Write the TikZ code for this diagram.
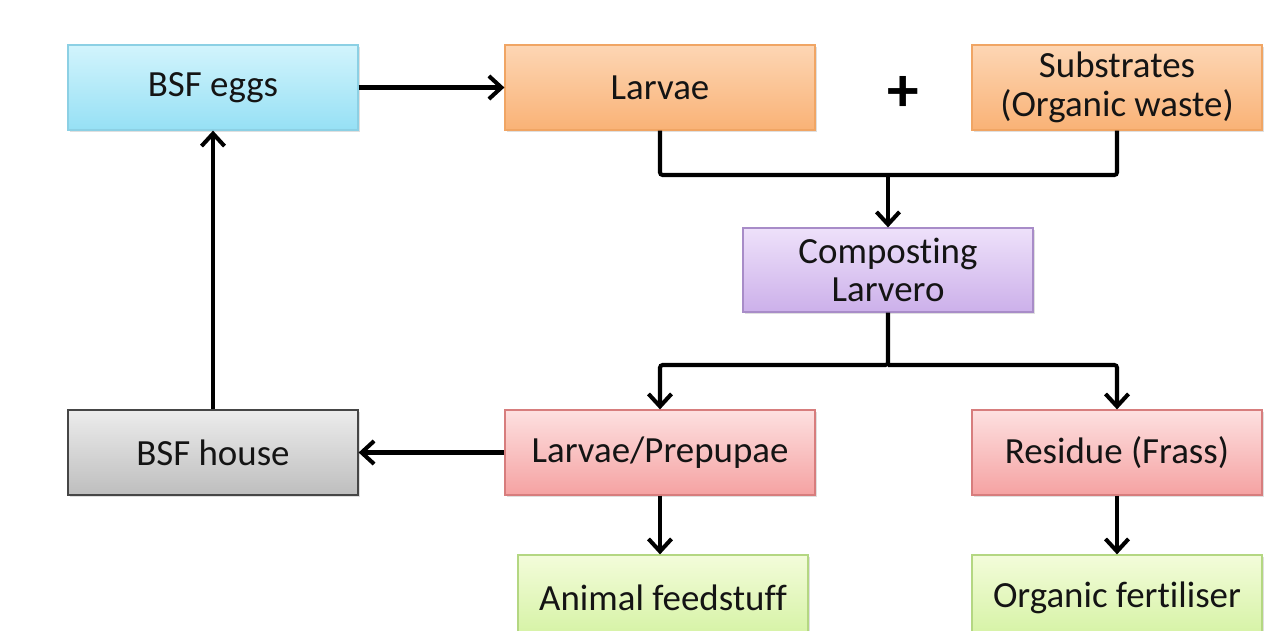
\documentclass[tikz,border=0pt]{standalone}
\usepackage{fontspec}
\setmainfont[Ligatures=NoCommon]{Carlito}
\usetikzlibrary{arrows.meta,shadows}
\definecolor{bsf_blue_t}{RGB}{210, 244, 252}
\definecolor{bsf_blue_b}{RGB}{150, 224, 245}
\definecolor{bsf_blue_d}{RGB}{140, 208, 228}
\definecolor{bsf_orange_t}{RGB}{253, 214, 180}
\definecolor{bsf_orange_b}{RGB}{249, 178, 118}
\definecolor{bsf_orange_d}{RGB}{240, 165, 100}
\definecolor{bsf_purple_t}{RGB}{238, 225, 250}
\definecolor{bsf_purple_b}{RGB}{204, 176, 234}
\definecolor{bsf_purple_d}{RGB}{168, 140, 200}
\definecolor{bsf_gray_t}{RGB}{236, 236, 236}
\definecolor{bsf_gray_b}{RGB}{190, 190, 190}
\definecolor{bsf_gray_d}{RGB}{70, 70, 70}
\definecolor{bsf_red_t}{RGB}{253, 224, 224}
\definecolor{bsf_red_b}{RGB}{245, 162, 162}
\definecolor{bsf_red_d}{RGB}{215, 125, 125}
\definecolor{bsf_green_t}{RGB}{243, 252, 218}
\definecolor{bsf_green_b}{RGB}{212, 242, 162}
\definecolor{bsf_green_d}{RGB}{180, 215, 130}
\tikzstyle{box}=[rectangle,minimum width=5.8cm,minimum height=1.7cm,inner sep=2pt,
  align=center,text=black!92,font=\fontsize{21}{22}\selectfont,line width=0.7pt,
  drop shadow={shadow xshift=1.2pt,shadow yshift=-1.2pt,opacity=0.25}]
\tikzstyle{bn}=[box,draw=bsf_blue_d,top color=bsf_blue_t,bottom color=bsf_blue_b]
\tikzstyle{on}=[box,draw=bsf_orange_d,top color=bsf_orange_t,bottom color=bsf_orange_b]
\tikzstyle{pn}=[box,draw=bsf_purple_d,top color=bsf_purple_t,bottom color=bsf_purple_b,
  minimum height=1.68cm]
\tikzstyle{an}=[box,draw=bsf_gray_d,top color=bsf_gray_t,bottom color=bsf_gray_b]
\tikzstyle{rn}=[box,draw=bsf_red_d,top color=bsf_red_t,bottom color=bsf_red_b]
\tikzstyle{gn}=[box,draw=bsf_green_d,top color=bsf_green_t,bottom color=bsf_green_b]
\tikzstyle{wide}=[minimum width=6.2cm]
\tikzstyle{none}=[inner sep=0pt,minimum size=0pt]
\tikzstyle{link}=[line width=2.3pt,rounded corners=1.5pt,
  -{Straight Barb[length=2.5mm,width=4.6mm,line width=2.3pt]}]
\tikzstyle{wire}=[line width=2.3pt,rounded corners=1.5pt]

\begin{document}
\begin{tikzpicture}
            \clip (0, 0) rectangle (25.58, 12.6);
            \node [style=bn] (1) at (4.26, 10.85) {BSF eggs};
            \node [style=on, wide] (2) at (13.2, 10.85) {Larvae};
            \node [style=on] (3) at (22.34, 10.85) {Substrates\\(Organic waste)};
            \node [style=none] (4) at (18.06, 10.72) {\fontsize{36}{36}\selectfont\bfseries +};
            \node [style=pn] (5) at (17.76, 7.2) {Composting\\Larvero};
            \node [style=an] (6) at (4.26, 3.55) {BSF house};
            \node [style=rn, wide] (7) at (13.2, 3.55) {Larvae/Prepupae};
            \node [style=rn] (8) at (22.34, 3.55) {Residue (Frass)};
            \node [style=gn] (9) at (13.26, 0.65) {Animal feedstuff};
            \node [style=gn] (10) at (22.34, 0.65) {Organic fertiliser};
            \node [style=none] (11) at (17.76, 9.1) {};
            \node [style=none] (12) at (17.76, 5.3) {};
            \draw [style=link] (1) to (2);
            \draw [style=wire] (2.south) |- (11.center) -| (3.south);
            \draw [style=link] (11.center) to (5.north);
            \draw [style=link] (5.south) |- (12.center) -| (7.north);
            \draw [style=link] (12.center) -| (8.north);
            \draw [style=link] (7) to (6);
            \draw [style=link] (6) to (1);
            \draw [style=link] (7.south) to (7.south |- 9.north);
            \draw [style=link] (8) to (10);
    \end{tikzpicture}
\end{document}
